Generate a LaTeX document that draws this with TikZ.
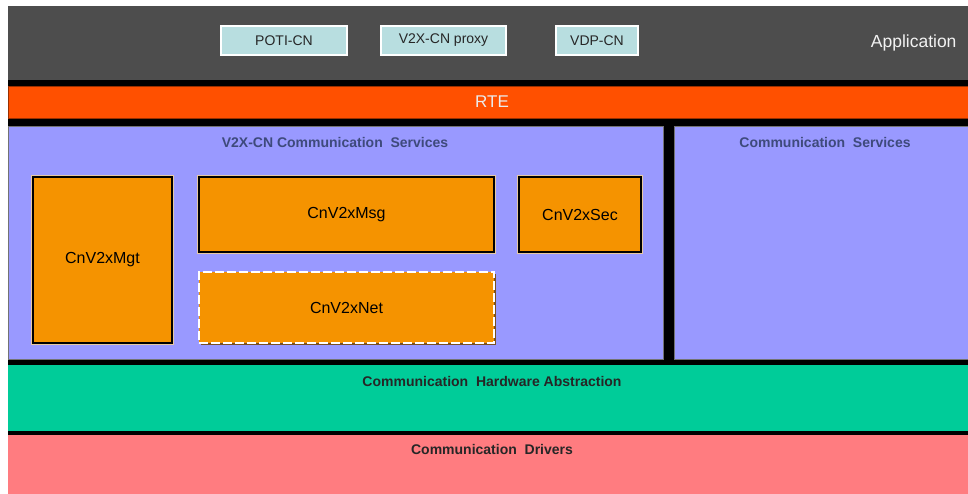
\documentclass[tikz,border=0pt]{standalone}
\usepackage{fontspec}
\setmainfont{Liberation Sans}
\usetikzlibrary{positioning}
\usetikzlibrary{shadows}
\definecolor{appgray}{HTML}{4D4D4D}
\definecolor{rteorange}{HTML}{FF5000}
\definecolor{svcpurple}{HTML}{9999FF}
\definecolor{hwgreen}{HTML}{00CC99}
\definecolor{drvpink}{HTML}{FF7C80}
\definecolor{swcorange}{HTML}{F59300}
\definecolor{appcyan}{HTML}{B8DEE0}
\definecolor{titleblue}{HTML}{3E4A7C}
\definecolor{tanline}{HTML}{E8C8A0}
\definecolor{shadowbrown}{HTML}{7A5020}

\begin{document}
\begin{tikzpicture}[x=1pt,y=-1pt,
  layer/.style={draw=black!55, line width=0.6pt, inner sep=0pt, anchor=north west},
  title/.style={font=\fontsize{14}{16}\selectfont\bfseries},
  swc/.style={fill=swcorange, draw=black, line width=1.8pt, inner sep=0pt,
    drop shadow={shadow xshift=2pt, shadow yshift=-2pt, fill=shadowbrown, opacity=1},
    preaction={draw=tanline, line width=3.6pt},
    font=\fontsize{16}{18}\selectfont},
  swcnet/.style={fill=swcorange, draw=white, dash pattern=on 9pt off 3pt,
    line width=1.6pt, inner sep=0pt,
    drop shadow={shadow xshift=2pt, shadow yshift=-2pt, fill=shadowbrown, opacity=1},
    font=\fontsize{16}{18}\selectfont},
  appswc/.style={fill=appcyan, draw=white, line width=1.6pt, inner sep=0pt,
    minimum height=29, font=\fontsize{14}{16}\selectfont, text=black!85},
  ]
\useasboundingbox (0,0) rectangle (968,493);
\fill[white] (0,0) rectangle (968,493);
\fill[black] (8,79) rectangle (968,435);

% layers
\node[layer, fill=appgray, draw=appgray, minimum width=960, minimum height=73] (app) at (8,6) {};
\node[layer, fill=rteorange, draw=rteorange!60!black, minimum width=960, minimum height=32] (rte) at (8,86) {};
\node[layer, fill=svcpurple, minimum width=655, minimum height=233] (cnsvc) at (8,126) {};
\node[layer, fill=svcpurple, minimum width=294, minimum height=233] (comsvc) at (674,126) {};
\node[layer, fill=hwgreen, draw=hwgreen, minimum width=960, minimum height=65] (comhw) at (8,365) {};
\node[layer, fill=drvpink, draw=drvpink, minimum width=960, minimum height=58] (comdrv) at (8,435) {};

% layer labels
\node[anchor=east, text=white!95!black, font=\fontsize{17.5}{20}\selectfont] (applbl) at (960,43) {Application};
\node[text=white!92!black, font=\fontsize{17}{20}\selectfont] (rtelbl) at (492,102) {RTE};
\node[title, text=titleblue] (cnsvclbl) at (335,142) {V2X-CN Communication\ \ Services};
\node[title, text=titleblue] (comsvclbl) at (825,142) {Communication\ \ Services};
\node[title, text=black!85] (comhwlbl) at (492,381) {Communication\ \ Hardware Abstraction};
\node[title, text=black!85] (comdrvlbl) at (492,449) {Communication\ \ Drivers};

% application components
\node[appswc, minimum width=126] (poti) at (284,40.5) {POTI-CN};
\node[appswc, minimum width=125] (proxy) at (443.5,40.5) {V2X-CN proxy};
\node[appswc, minimum width=82] (vdp) at (597,40.5) {VDP-CN};

% V2X-CN modules
\node[swc, minimum width=139, minimum height=166] (mgt) at (102.5,260) {CnV2xMgt};
\node[swc, minimum width=295, minimum height=75] (msg) at (346.5,214.5) {CnV2xMsg};
\node[swc, minimum width=122, minimum height=75] (sec) at (580,214.5) {CnV2xSec};
\node[swcnet, minimum width=295, minimum height=71] (net) at (346.5,307.5) {CnV2xNet};
\end{tikzpicture}
\end{document}
